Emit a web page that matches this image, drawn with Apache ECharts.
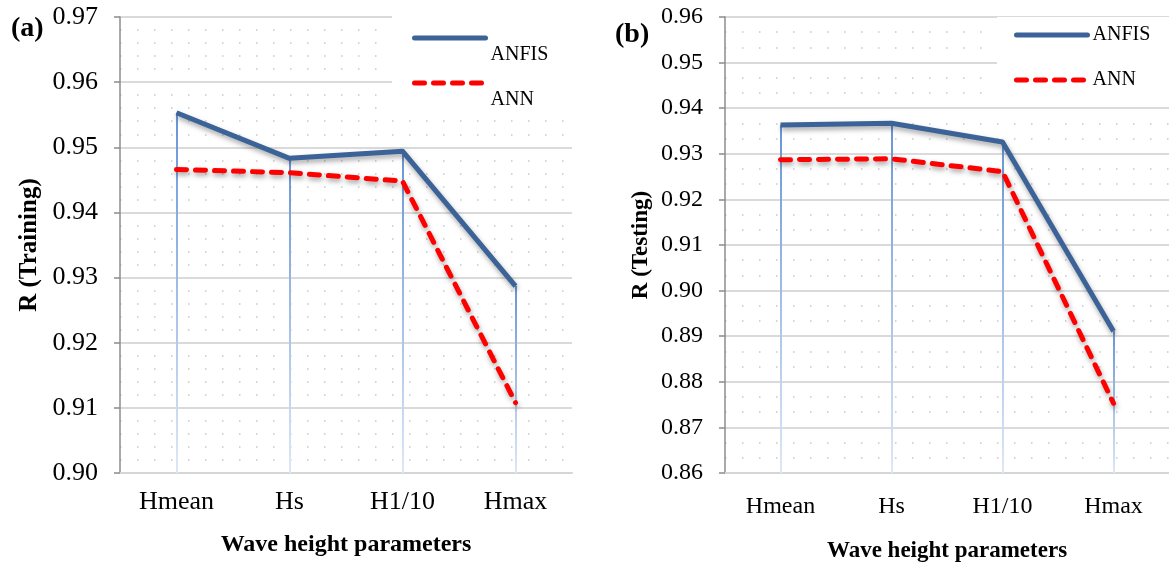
<!DOCTYPE html>
<html>
<head>
<meta charset="utf-8">
<script src="https://cdn.jsdelivr.net/npm/echarts@6/dist/echarts.min.js"></script>
<style>
  html, body { margin: 0; padding: 0; background: #fff; }
  #chart { width: 1169px; height: 570px; }
</style>
</head>
<body>
<div id="chart"></div>
<script>
// data
const categories = ['Hmean', 'Hs', 'H1/10', 'Hmax'];
const anfisTrain = [0.9553, 0.9483, 0.9494, 0.9287];
const annTrain = [0.9466, 0.9461, 0.9448, 0.9108];
const anfisTest = [0.9363, 0.9367, 0.9326, 0.8911];
const annTest = [0.9287, 0.9289, 0.9261, 0.8753];
const trainRange = [0.90, 0.97];
const testRange = [0.86, 0.96];

const FONT = "'Liberation Serif', 'Times New Roman', serif";

let mychart = echarts.init(document.getElementById('chart'));

function dropLines(values, min) {
	// vertical lines from each ANFIS point down to the x axis
	return {
		silent: true,
		z: 1,
		symbol: ['none', 'none'],
		label: { show: false },
		lineStyle: {
			type: 'solid',
			width: 2,
			color: new echarts.graphic.LinearGradient(0, 0, 0, 1, [
				{ offset: 0, color: '#6694d6' },
				{ offset: 1, color: '#dfe8f6' }
			])
		},
		data: values.map((v, i) => [{ coord: [i, v] }, { coord: [i, min] }])
	};
}

function yAxisOpt(idx, range, name, labelSize, nameSize, nameGap, minorSplit) {
	return {
		type: 'value',
		gridIndex: idx,
		min: range[0],
		max: range[1],
		interval: 0.01,
		name: name,
		nameLocation: 'middle',
		nameGap: nameGap,
		nameTextStyle: { fontFamily: FONT, fontSize: nameSize, fontWeight: 'bold', color: '#000' },
		axisLine: { show: true, lineStyle: { color: '#8c8c8c', width: 1.5 } },
		axisTick: { show: true, length: 6, lineStyle: { color: '#8c8c8c', width: 1.5 } },
		axisLabel: {
			fontFamily: FONT, fontSize: labelSize, color: '#000', margin: 22,
			formatter: v => v.toFixed(2)
		},
		splitLine: { lineStyle: { color: '#dadada', width: 2 } },
		minorTick: { show: false, splitNumber: minorSplit },
		minorSplitLine: { show: true, lineStyle: { color: '#c8c8c8', width: 1.5, type: [1.5, 15.5] } }
	};
}

function xAxisOpt(idx, labelSize, labelMargin, nameSize, nameGap) {
	return {
		type: 'category',
		gridIndex: idx,
		data: categories,
		name: 'Wave height parameters',
		nameLocation: 'middle',
		nameGap: nameGap,
		nameTextStyle: { fontFamily: FONT, fontSize: nameSize, fontWeight: 'bold', color: '#000' },
		axisLine: { lineStyle: { color: '#d6d6d6', width: 2 } },
		axisTick: { show: false },
		axisLabel: { fontFamily: FONT, fontSize: labelSize, color: '#000', margin: labelMargin },
		splitLine: { show: false }
	};
}

function lineSeries(name, data, idx, dashed, extra) {
	let s = {
		name: name,
		type: 'line',
		xAxisIndex: idx,
		yAxisIndex: idx,
		data: data,
		symbol: 'none',
		z: 3,
		lineStyle: {
			width: 5,
			color: dashed ? '#ff0000' : '#3b6397',
			type: dashed ? [10, 9] : 'solid',
			cap: dashed ? 'round' : 'butt',
			join: 'round',
			shadowColor: 'rgba(0,0,0,0.35)',
			shadowBlur: 5,
			shadowOffsetX: 1,
			shadowOffsetY: 3
		},
		itemStyle: { color: dashed ? '#ff0000' : '#3b6397' }
	};
	return Object.assign(s, extra || {});
}

function legendOpt(names, left, top, padding, itemGap, shifted) {
	return {
		data: names,
		orient: 'vertical',
		left: left,
		top: top,
		padding: padding,
		itemGap: itemGap,
		itemWidth: 71,
		itemHeight: 14,
		backgroundColor: '#fff',
		formatter: shifted ? '\n{name}' : '{name}',
		itemStyle: { opacity: 0 },
		lineStyle: { width: 5, cap: 'round', shadowBlur: 0, shadowColor: 'rgba(0,0,0,0)' },
		textStyle: { fontFamily: FONT, fontSize: 20, color: '#000', lineHeight: shifted ? 34 : 20 }
	};
}

let option = {
	animation: false,
	backgroundColor: '#fff',
	title: [
		{ text: '(a)', left: 6, top: 10, textStyle: { fontFamily: FONT, fontSize: 28, fontWeight: 'bold', color: '#000' } },
		{ text: '(b)', left: 610, top: 16, textStyle: { fontFamily: FONT, fontSize: 28, fontWeight: 'bold', color: '#000' } }
	],
	legend: [
		// panel (a): labels sit below their line samples
		legendOpt(['ANFIS'], 392, 4, [0, 26, 0, 20], 0, true),
		legendOpt(['ANN'], 392, 49, [0, 39, 0, 20], 0, true),
		// panel (b)
		legendOpt(['ANFIS', 'ANN'], 997, 17, [8, 21, 17, 17], 25, false)
	],
	grid: [
		{ left: 120, top: 17, width: 452, height: 456 },
		{ left: 725, top: 17, width: 444, height: 456 }
	],
	xAxis: [
		xAxisOpt(0, 26, 16, 24, 60),
		xAxisOpt(1, 24, 22, 23, 67)
	],
	yAxis: [
		yAxisOpt(0, trainRange, 'R (Training)', 26, 25, 78, 5),
		yAxisOpt(1, testRange, 'R (Testing)', 24, 23, 72, 3)
	],
	series: [
		lineSeries('ANFIS', anfisTrain, 0, false, { markLine: dropLines(anfisTrain, trainRange[0]) }),
		lineSeries('ANN', annTrain, 0, true),
		lineSeries('ANFIS', anfisTest, 1, false, { markLine: dropLines(anfisTest, testRange[0]) }),
		lineSeries('ANN', annTest, 1, true)
	]
};

mychart.setOption(option);
</script>
</body>
</html>
